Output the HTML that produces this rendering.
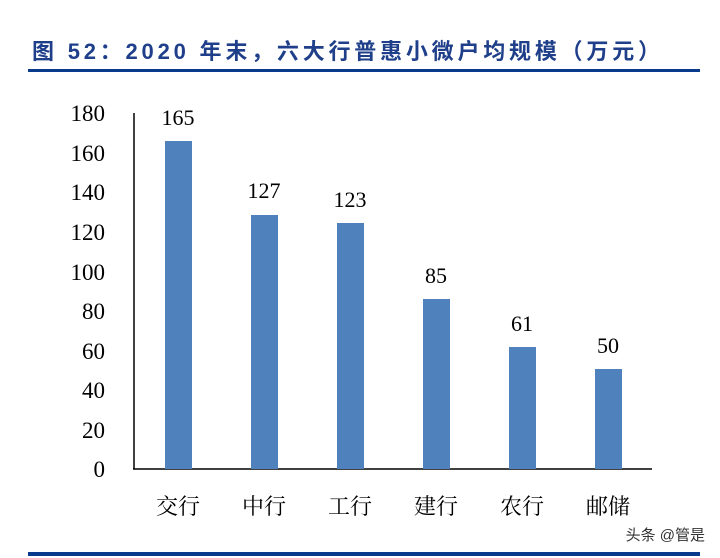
<!DOCTYPE html>
<html><head><meta charset="utf-8"><style>
body{margin:0;background:#fff;}
svg{display:block}
</style></head><body>
<svg width="720" height="558" viewBox="0 0 720 558" xmlns="http://www.w3.org/2000/svg">
<text x="32" y="59" textLength="628" lengthAdjust="spacing" font-family="'Liberation Sans','Noto Sans CJK SC',sans-serif" font-weight="bold" font-size="22" fill="#1f3f8a">图 52：2020 年末，六大行普惠小微户均规模（万元）</text>
<rect x="28" y="69" width="672" height="3" fill="#0a3a8c"/>
<rect x="28" y="552" width="672" height="4" fill="#0a3a8c"/>
<g font-family="'Liberation Serif','Noto Serif CJK SC',serif" font-size="23" fill="#000" text-anchor="end">
<text x="105" y="477">0</text>
<text x="105" y="438">20</text>
<text x="105" y="398">40</text>
<text x="105" y="359">60</text>
<text x="105" y="319">80</text>
<text x="105" y="280">100</text>
<text x="105" y="240">120</text>
<text x="105" y="200">140</text>
<text x="105" y="161">160</text>
<text x="105" y="121">180</text>
</g>
<line x1="134" y1="113" x2="134" y2="469" stroke="#000" stroke-width="1.5"/>
<line x1="133" y1="469" x2="652" y2="469" stroke="#000" stroke-width="1.5"/>
<g fill="#4f81bd">
<rect x="165" y="141" width="27" height="328"/>
<rect x="251" y="215" width="27" height="254"/>
<rect x="337" y="223" width="27" height="246"/>
<rect x="423" y="299" width="27" height="170"/>
<rect x="509" y="347" width="27" height="122"/>
<rect x="595" y="369" width="27" height="100"/>
</g>
<g font-family="'Liberation Serif',serif" font-size="22" fill="#000" text-anchor="middle">
<text x="178" y="125">165</text>
<text x="264" y="198">127</text>
<text x="350" y="207">123</text>
<text x="436" y="283">85</text>
<text x="522" y="331">61</text>
<text x="608" y="353">50</text>
</g>
<g font-family="'Noto Serif CJK SC',serif" font-size="22" fill="#000" text-anchor="middle">
<text x="178" y="514">交行</text>
<text x="264" y="514">中行</text>
<text x="350" y="514">工行</text>
<text x="436" y="514">建行</text>
<text x="522" y="514">农行</text>
<text x="608" y="514">邮储</text>
</g>
<text x="705" y="540" text-anchor="end" font-family="'Liberation Sans','Noto Sans CJK SC',sans-serif" font-size="15" fill="#333">头条 @管是</text>
</svg>
</body></html>
